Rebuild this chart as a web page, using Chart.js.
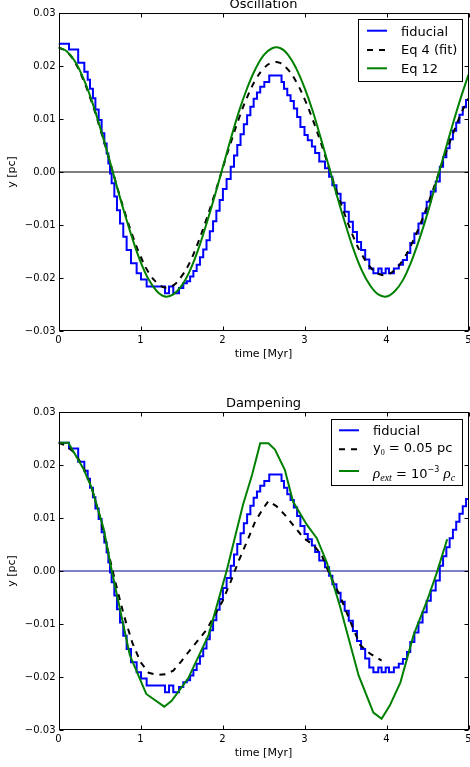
<!DOCTYPE html>
<html>
<head>
<meta charset="utf-8">
<title>Oscillation / Dampening</title>
<script src="https://cdn.jsdelivr.net/npm/chart.js@4.4.1/dist/chart.umd.min.js"></script>
<style>
  html, body { margin: 0; padding: 0; background: #fff; overflow: hidden; }
  .panel { position: absolute; left: 0; width: 470px; height: 364px; }
</style>
</head>
<body>
<div class="panel" style="top:-3px"><canvas id="oscillation"></canvas></div>
<div class="panel" style="top:396px"><canvas id="dampening"></canvas></div>
<script>
    "use strict";

    // Axis ticks
    var xTickVals = [0, 1, 2, 3, 4, 5];
    var xTickText = ["0", "1", "2", "3", "4", "5"];
    var yTickVals = [-0.03, -0.02, -0.01, 0, 0.01, 0.02, 0.03];
    var yTickText = ["\u22120.03", "\u22120.02", "\u22120.01", "0.00", "0.01", "0.02", "0.03"];

    // Time grid (Myr) for the two analytic curves
    var tGrid = [0, 0.1, 0.2, 0.3, 0.4, 0.5, 0.6, 0.7, 0.8, 0.9,
        1.0, 1.1, 1.2, 1.3, 1.4, 1.5, 1.6, 1.7, 1.8, 1.9,
        2.0, 2.1, 2.2, 2.3, 2.4, 2.5, 2.6, 2.7, 2.8, 2.9,
        3.0, 3.1, 3.2, 3.3, 3.4, 3.5, 3.6, 3.7, 3.8, 3.9,
        4.0, 4.1, 4.2, 4.3, 4.4, 4.5, 4.6, 4.7, 4.8, 4.9, 5.0];
    // Eq 4 (fit), pc
    var eq4Y = [0.0235, 0.0227, 0.0207, 0.0175, 0.0134, 0.0086, 0.0034, -0.0020, -0.0072, -0.0119,
        -0.0159, -0.0190, -0.0209, -0.0218, -0.0214, -0.0197, -0.0171, -0.0134, -0.0091, -0.0044,
        0.0006, 0.0055, 0.0101, 0.0141, 0.0173, 0.0195, 0.0206, 0.0206, 0.0193, 0.0170,
        0.0138, 0.0099, 0.0055, 0.0007, -0.0040, -0.0084, -0.0124, -0.0156, -0.0179, -0.0192,
        -0.0194, -0.0185, -0.0166, -0.0138, -0.0103, -0.0063, -0.0019, 0.0026, 0.0068, 0.0107, 0.0139];
    // Eq 12, pc
    var eq12Y = [0.0235, 0.0228, 0.0209, 0.0178, 0.0137, 0.0088, 0.0035, -0.0021, -0.0075, -0.0125,
        -0.0169, -0.0203, -0.0225, -0.0235, -0.0231, -0.0215, -0.0187, -0.0148, -0.0100, -0.0048,
        0.0007, 0.0062, 0.0114, 0.0158, 0.0194, 0.0220, 0.0233, 0.0234, 0.0221, 0.0195,
        0.0159, 0.0115, 0.0063, 0.0009, -0.0047, -0.0099, -0.0147, -0.0186, -0.0214, -0.0231,
        -0.0235, -0.0225, -0.0204, -0.0170, -0.0127, -0.0078, -0.0023, 0.0032, 0.0086, 0.0137, 0.0184];

    // Fiducial run: start time of each step and its level
    var fidT = [0, 0.128, 0.24, 0.315, 0.356, 0.384, 0.42, 0.45, 0.49, 0.526,
        0.559, 0.587, 0.608, 0.628, 0.648, 0.681, 0.713, 0.75, 0.79, 0.831,
        0.884, 0.953, 1.006, 1.075, 1.299, 1.348, 1.40, 1.47, 1.522, 1.565,
        1.605, 1.645, 1.685, 1.725, 1.765, 1.805, 1.845, 1.885, 1.925, 1.965,
        2.005, 2.05, 2.10, 2.14, 2.18, 2.22, 2.26, 2.30, 2.34, 2.38,
        2.42, 2.46, 2.51, 2.57, 2.72, 2.75, 2.79, 2.83, 2.87, 2.91,
        2.95, 3.00, 3.04, 3.09, 3.13, 3.18, 3.25, 3.30, 3.34, 3.39,
        3.44, 3.49, 3.54, 3.59, 3.64, 3.69, 3.74, 3.79, 3.84, 3.90,
        3.94, 3.99, 4.03, 4.09, 4.15, 4.20, 4.25, 4.29, 4.34, 4.39,
        4.44, 4.49, 4.54, 4.60, 4.65, 4.69, 4.73, 4.77, 4.81, 4.85,
        4.89, 4.93, 4.97, 5.0];
    var fidY = [0.0242, 0.0231, 0.0206, 0.0189, 0.0174, 0.0157, 0.0139, 0.0118, 0.0098, 0.0073,
        0.0054, 0.0035, 0.0016, -0.0003, -0.0021, -0.0046, -0.0072, -0.0097, -0.0122, -0.0147,
        -0.0172, -0.0191, -0.0203, -0.0216, -0.0229, -0.0216, -0.0229, -0.0219, -0.0210, -0.0206,
        -0.0197, -0.0187, -0.0175, -0.0161, -0.0146, -0.0129, -0.0112, -0.0093, -0.0073, -0.0053,
        -0.0032, -0.0013, 0.0010, 0.0031, 0.0051, 0.0071, 0.0090, 0.0107, 0.0123, 0.0138,
        0.0150, 0.0161, 0.0170, 0.0182, 0.0170, 0.0157, 0.0145, 0.0134, 0.0120, 0.0104,
        0.0085, 0.0070, 0.0060, 0.0048, 0.0036, 0.0020, 0.0007, -0.0009, -0.0025, -0.0041,
        -0.0058, -0.0075, -0.0094, -0.0113, -0.0132, -0.0147, -0.0165, -0.0182, -0.0191, -0.0182,
        -0.0191, -0.0182, -0.0191, -0.0182, -0.0175, -0.0166, -0.0153, -0.0134, -0.0116, -0.0097,
        -0.0078, -0.0056, -0.0037, -0.0018, 0.0010, 0.0028, 0.0045, 0.0062, 0.0078, 0.0093,
        0.0108, 0.0122, 0.0136, 0.0136];

    // y0 = 0.05 pc run
    var y0T = [0, 0.1, 0.2, 0.3, 0.4, 0.5, 0.6, 0.7, 0.8, 0.9,
        1.0, 1.1, 1.2, 1.3, 1.4, 1.5, 1.6, 1.7, 1.8, 1.9,
        2.0, 2.1, 2.2, 2.3, 2.4, 2.5, 2.56, 2.66, 2.76, 2.86,
        2.99, 3.11, 3.21, 3.31, 3.43, 3.56, 3.68, 3.80, 3.94];
    var y0Y = [0.0242, 0.0236, 0.0222, 0.0197, 0.0160, 0.0105, 0.0040, -0.0025, -0.0085, -0.0135,
        -0.0172, -0.0192, -0.0196, -0.0195, -0.0188, -0.0170, -0.0150, -0.0131, -0.0112, -0.0085,
        -0.0057, -0.0020, 0.0020, 0.0056, 0.0094, 0.0119, 0.0132, 0.0122, 0.0106, 0.0087,
        0.0062, 0.0049, 0.0030, -0.0008, -0.0046, -0.0096, -0.0140, -0.0156, -0.0169];

    // rho_ext = 1e-3 rho_c run
    var rhoT = [0, 0.12, 0.30, 0.40, 0.55, 0.65, 0.87, 1.07, 1.29, 1.38,
        1.58, 1.83, 2.05, 2.25, 2.36, 2.46, 2.56, 2.64, 2.76, 2.86,
        3.03, 3.15, 3.27, 3.43, 3.66, 3.84, 3.94, 4.04, 4.17, 4.33,
        4.49, 4.61, 4.74];
    var rhoY = [0.0242, 0.0242, 0.0194, 0.0159, 0.0080, 0.0000, -0.0159, -0.0232, -0.0256, -0.0245,
        -0.0203, -0.0121, 0.0000, 0.0125, 0.0181, 0.0241, 0.0241, 0.0229, 0.0191, 0.0131,
        0.0087, 0.0062, 0.0017, -0.0065, -0.0197, -0.0267, -0.0279, -0.0254, -0.0210, -0.0121,
        -0.0058, -0.0005, 0.0060];

    // y = 0 reference line
    var zeroT = [0, 5];
    var zeroY = [0, 0];

    var SANS = '"DejaVu Sans", sans-serif';

    function pts(ts, ys) {
        return ts.map(function (t, i) { return { x: t, y: ys[i] }; });
    }

    // Frame with inward ticks on all four sides
    var frameTicks = {
        id: 'frameTicks',
        afterDatasetsDraw: function (chart) {
            var ctx = chart.ctx, a = chart.chartArea;
            var xs = chart.scales.x, ys = chart.scales.y;
            var L = Math.round(a.left) + 0.5, R = Math.round(a.right) - 0.5;
            var T = Math.round(a.top) + 0.5, B = Math.round(a.bottom) - 0.5;
            ctx.save();
            ctx.strokeStyle = '#000';
            ctx.lineWidth = 1;
            ctx.beginPath();
            xTickVals.forEach(function (v) {
                var px = Math.round(xs.getPixelForValue(v)) + 0.5;
                ctx.moveTo(px, B); ctx.lineTo(px, B - 4);
                ctx.moveTo(px, T); ctx.lineTo(px, T + 4);
            });
            yTickVals.forEach(function (v) {
                var py = Math.round(ys.getPixelForValue(v)) + 0.5;
                ctx.moveTo(L, py); ctx.lineTo(L + 4, py);
                ctx.moveTo(R, py); ctx.lineTo(R - 4, py);
            });
            ctx.stroke();
            ctx.strokeRect(L, T, R - L, B - T);
            ctx.restore();
        }
    };

    // Boxed legend in the upper right corner
    function boxLegend(cfg) {
        return {
            id: 'boxLegend',
            afterDraw: function (chart) {
                var ctx = chart.ctx, a = chart.chartArea;
                var bx = Math.round(a.right - cfg.inset - cfg.width), by = Math.round(a.top + cfg.top);
                ctx.save();
                ctx.fillStyle = '#fff';
                ctx.fillRect(bx, by, cfg.width, cfg.height);
                ctx.strokeStyle = '#000';
                ctx.lineWidth = 1;
                ctx.strokeRect(bx + 0.5, by + 0.5, cfg.width, cfg.height);
                cfg.rows.forEach(function (row) {
                    var ds = chart.data.datasets[row.ds];
                    var ly = by + row.y;
                    ctx.strokeStyle = ds.borderColor;
                    ctx.lineWidth = ds.borderWidth;
                    ctx.setLineDash(ds.borderDash || []);
                    ctx.beginPath();
                    ctx.moveTo(bx + cfg.handle[0], ly);
                    ctx.lineTo(bx + cfg.handle[1], ly);
                    ctx.stroke();
                    ctx.setLineDash([]);
                    var tx = bx + cfg.textX;
                    ctx.fillStyle = '#000';
                    ctx.textBaseline = 'alphabetic';
                    row.text.forEach(function (seg) {
                        var size = seg.size || 13;
                        ctx.font = seg.it ? ('italic ' + size + 'px "Liberation Serif", serif')
                            : (seg.serif ? size + 'px "Liberation Serif", serif' : size + 'px ' + SANS);
                        ctx.fillText(seg.t, tx, ly + row.base + (seg.dy || 0));
                        tx += ctx.measureText(seg.t).width;
                    });
                });
                ctx.restore();
            }
        };
    }

    function panelOptions(title) {
        return {
            responsive: true,
            maintainAspectRatio: false,
            animation: false,
            events: [],
            layout: { autoPadding: false, padding: { left: 0, right: 1.5, top: 0, bottom: 0 } },
            elements: { point: { radius: 0 }, line: { tension: 0, fill: false } },
            plugins: {
                legend: { display: false },
                tooltip: { enabled: false },
                title: {
                    display: true, text: title, fullSize: false, color: '#000',
                    font: { family: SANS, size: 13, weight: 'normal' },
                    padding: { top: 0, bottom: 0.4 }
                }
            },
            scales: {
                x: {
                    type: 'linear', min: 0, max: 5,
                    grid: { display: false, drawTicks: false },
                    border: { display: false },
                    afterBuildTicks: function (s) { s.ticks = xTickVals.map(function (v) { return { value: v }; }); },
                    afterFit: function (s) { s.height = 30; s.paddingLeft = 0; s.paddingRight = 0; },
                    ticks: {
                        color: '#000', font: { family: SANS, size: 10 }, padding: 3,
                        maxRotation: 0, autoSkip: false,
                        callback: function (v, i) { return xTickText[i]; }
                    },
                    title: {
                        display: true, text: 'time [Myr]', color: '#000',
                        font: { family: SANS, size: 11 }, padding: { top: 0, bottom: 0 }
                    }
                },
                y: {
                    type: 'linear', min: -0.03, max: 0.03,
                    grid: { display: false, drawTicks: false },
                    border: { display: false },
                    afterBuildTicks: function (s) { s.ticks = yTickVals.map(function (v) { return { value: v }; }); },
                    afterFit: function (s) { s.width = 58.5; s.paddingTop = 0; s.paddingBottom = 0; },
                    ticks: {
                        color: '#000', font: { family: SANS, size: 10 }, padding: 3,
                        autoSkip: false,
                        callback: function (v, i) { return yTickText[i]; }
                    },
                    title: {
                        display: true, text: 'y [pc]', color: '#000',
                        font: { family: SANS, size: 11 }, padding: { top: 5.4, bottom: 0 }
                    }
                }
            }
        };
    }

    // Oscillation
    new Chart(document.getElementById('oscillation').getContext('2d'), {
        type: 'line',
        data: {
            datasets: [{
                label: 'fiducial', data: pts(fidT, fidY),
                borderColor: '#0000ff', borderWidth: 2, stepped: 'before', order: 3
            }, {
                label: 'Eq 4 (fit)', data: pts(tGrid, eq4Y),
                borderColor: '#000000', borderWidth: 2, borderDash: [6, 6],
                tension: 0.4, order: 2
            }, {
                label: 'Eq 12', data: pts(tGrid, eq12Y),
                borderColor: '#008000', borderWidth: 2,
                tension: 0.4, order: 1
            }, {
                label: 'zero', data: pts(zeroT, zeroY),
                borderColor: '#000000', borderWidth: 1, order: 4
            }]
        },
        options: panelOptions('Oscillation'),
        plugins: [frameTicks, boxLegend({
            width: 104, height: 62, inset: 6.5, top: 6, handle: [9, 29], textX: 43,
            rows: [
                { ds: 0, y: 11.7, base: 4.8, text: [{ t: 'fiducial' }] },
                { ds: 1, y: 31, base: 3.7, text: [{ t: 'Eq 4 (fit)' }] },
                { ds: 2, y: 49.3, base: 4.4, text: [{ t: 'Eq 12' }] }
            ]
        })]
    });

    // Dampening
    new Chart(document.getElementById('dampening').getContext('2d'), {
        type: 'line',
        data: {
            datasets: [{
                label: 'fiducial', data: pts(fidT, fidY),
                borderColor: '#0000ff', borderWidth: 2, stepped: 'before', order: 3
            }, {
                label: 'y0 = 0.05 pc', data: pts(y0T, y0Y),
                borderColor: '#000000', borderWidth: 2, borderDash: [6, 6], order: 2
            }, {
                label: 'rho_ext = 1e-3 rho_c', data: pts(rhoT, rhoY),
                borderColor: '#008000', borderWidth: 2, order: 1
            }, {
                label: 'zero', data: pts(zeroT, zeroY),
                borderColor: '#00008b', borderWidth: 1, order: 4
            }]
        },
        options: panelOptions('Dampening'),
        plugins: [frameTicks, boxLegend({
            width: 131, height: 66, inset: 6.5, top: 7, handle: [8, 28], textX: 42,
            rows: [
                { ds: 0, y: 11.3, base: 4.7, text: [{ t: 'fiducial' }] },
                { ds: 1, y: 30.3, base: 2.2, text: [{ t: 'y' }, { t: '0', size: 8, dy: 3, serif: true }, { t: ' = 0.05 pc' }] },
                { ds: 2, y: 52, base: 6.5, text: [
                    { t: '\u03c1', size: 15, it: true }, { t: 'ext', size: 10, dy: 3, it: true },
                    { t: ' = 10' }, { t: '\u22123', size: 8, dy: -6 }, { t: ' ' },
                    { t: '\u03c1', size: 15, it: true }, { t: 'c', size: 10, dy: 3, it: true }
                ] }
            ]
        })]
    });
</script>
</body>
</html>
